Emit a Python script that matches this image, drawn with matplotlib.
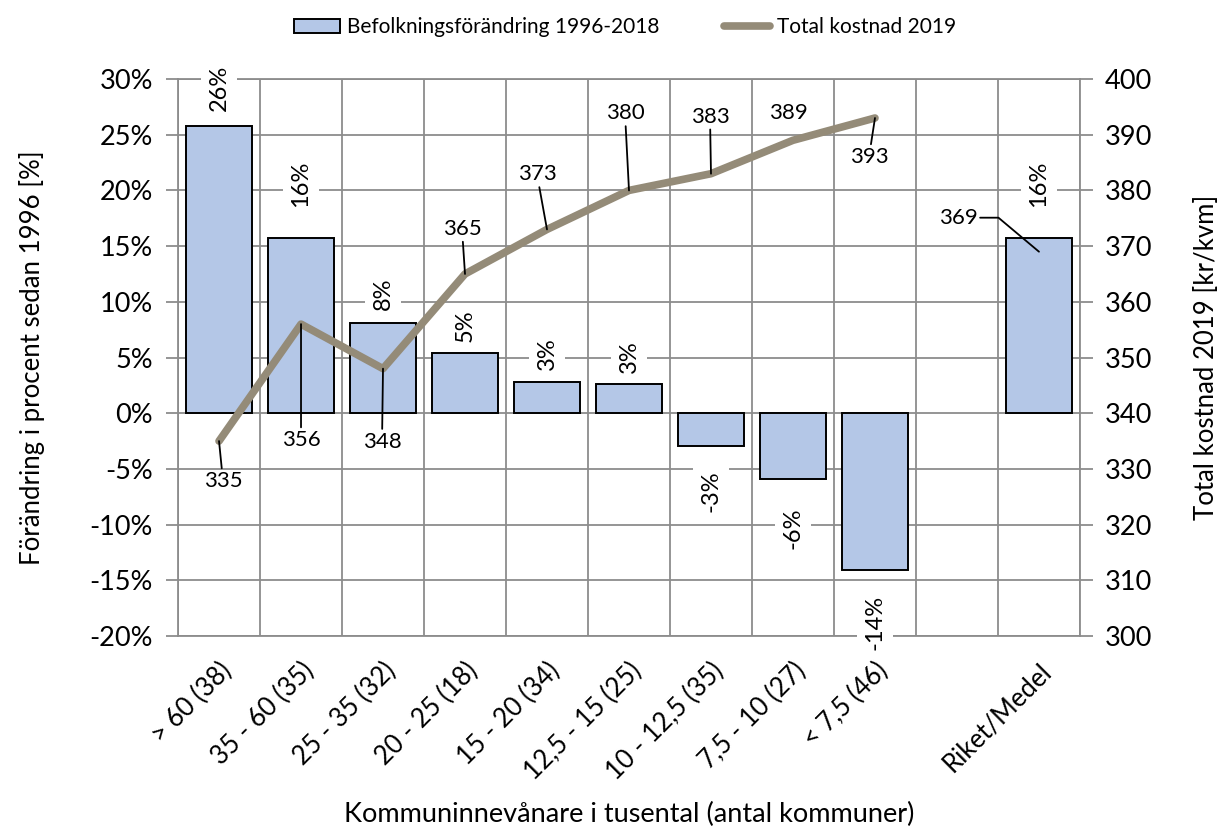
import matplotlib
matplotlib.use("Agg")
import matplotlib.pyplot as plt
import matplotlib.ticker as mticker
from matplotlib.patches import Patch
from matplotlib.lines import Line2D
import numpy as np

plt.rcParams['font.family'] = ['Lato', 'DejaVu Sans']

# data
categories = ["> 60 (38)", "35 - 60 (35)", "25 - 35 (32)", "20 - 25 (18)", "15 - 20 (34)",
              "12,5 - 15 (25)", "10 - 12,5 (35)", "7,5 - 10 (27)", "< 7,5 (46)", "", "Riket/Medel"]
befolkning = [25.8, 15.7, 8.1, 5.4, 2.8, 2.6, -2.9, -5.9, -14.1, np.nan, 15.7]
kostnad = [335, 356, 348, 365, 373, 380, 383, 389, 393, np.nan, 369]

# label placement (offset pixels from the data point)
bar_lab_off = [38, 55, 29, 27, 28, 28, -46, -49, -52, 0, 55]
line_lab_off = [(4, -40), (0, -116), (-1, -73), (-3, 45), (-10, 55), (-4, 77),
                (-1, 57), (-5, 27), (-6, -39), (0, 0), (-81, 34)]
line_leader = [True, True, True, True, True, True, True, False, True, False, True]

bar_color = "#B4C7E7"
line_color = "#948B78"
grid_color = "#8C8C8C"

fig = plt.figure(figsize=(12.21, 8.30), dpi=100)
ax = fig.add_axes([0.1458, 0.2337, 0.7387, 0.6711])
x = np.arange(len(categories))

ax.bar(x, befolkning, width=0.8, color=bar_color, edgecolor="black", linewidth=1.4, zorder=2)
ax.set_xlim(-0.5, len(categories) - 0.5)
ax.set_ylim(-20, 30)
ax.yaxis.set_major_locator(mticker.MultipleLocator(5))
ax.yaxis.set_major_formatter(mticker.FuncFormatter(lambda v, p: f"{v:.0f}%"))
ax.set_xticks(x)
ax.set_xticklabels(categories, rotation=45, ha="right", rotation_mode="anchor", fontsize=18.5)
ax.set_xticks(np.arange(-0.5, len(categories), 1), minor=True)
ax.tick_params(axis="x", which="both", length=0, pad=16)
ax.tick_params(axis="y", length=9, width=1.3, color=grid_color, labelsize=19.5, pad=9)
ax.grid(axis="y", which="major", color=grid_color, linewidth=1.3)
ax.grid(axis="x", which="minor", color=grid_color, linewidth=1.3)
ax.set_axisbelow(True)
for s in ax.spines.values():
    s.set_color(grid_color)
    s.set_linewidth(1.3)
ax.set_ylabel("Förändring i procent sedan 1996 [%]", fontsize=18.5, labelpad=32)
ax.set_xlabel("Kommuninnevånare i tusental (antal kommuner)", fontsize=19.5, labelpad=12)

for i, v in enumerate(befolkning):
    if np.isnan(v):
        continue
    ax.annotate(f"{round(v):.0f}%", (i, v), xytext=(0, bar_lab_off[i]), textcoords="offset pixels",
                rotation=90, ha="center", va="center", fontsize=17, annotation_clip=False,
                bbox=dict(boxstyle="square,pad=0.3", fc="white", ec="none"), zorder=3)

ax2 = ax.twinx()
ax2.plot(x, kostnad, color=line_color, linewidth=5.5, solid_capstyle="round", zorder=3)
ax2.set_ylim(300, 400)
ax2.yaxis.set_major_locator(mticker.MultipleLocator(10))
ax2.tick_params(axis="y", length=9, width=1.3, color=grid_color, labelsize=19.5, pad=9)
for s in ax2.spines.values():
    s.set_visible(False)
ax2.set_ylabel("Total kostnad 2019 [kr/kvm]", fontsize=18.5, labelpad=30)

for i, v in enumerate(kostnad):
    if np.isnan(v):
        continue
    arrow = dict(arrowstyle="-", color="black", lw=1.3, shrinkA=0, shrinkB=0) if line_leader[i] else None
    if i == len(kostnad) - 1:
        arrow["connectionstyle"] = "angle,angleA=0,angleB=-40,rad=0"
    ax2.annotate(f"{v:.0f}", (i, v), xytext=line_lab_off[i], textcoords="offset pixels",
                 ha="center", va="center", fontsize=16, arrowprops=arrow, annotation_clip=False)

handles = [Patch(facecolor=bar_color, edgecolor="black", linewidth=1.4),
           Line2D([0], [0], color=line_color, linewidth=5.5, solid_capstyle="round")]
fig.legend(handles, ["Befolkningsförändring 1996-2018", "Total kostnad 2019"],
           loc="center", bbox_to_anchor=(0.512, 0.967), ncol=2, frameon=False, fontsize=15,
           handlelength=2.2, handleheight=0.7, columnspacing=3.1, handletextpad=0.35)

fig.savefig("out.png", dpi=100)
